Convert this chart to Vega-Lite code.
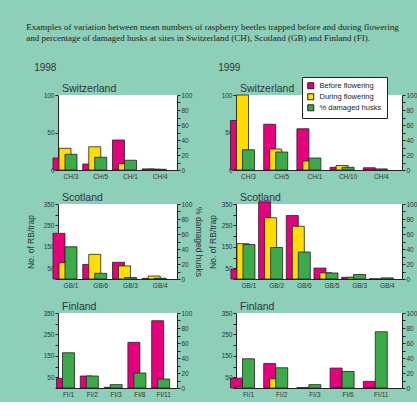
{
  "$schema": "https://vega.github.io/schema/vega-lite/v6.json",
  "background": "#8dcfb9",
  "padding": {"left": 26, "top": 22, "right": 0, "bottom": 4},
  "title": {
    "text": ["Examples of variation between mean numbers of raspberry beetles trapped before and during flowering", "and percentage of damaged husks at sites in Switzerland (CH), Scotland (GB) and Finland (FI)."],
    "font": "Liberation Serif", "fontSize": 9, "lineHeight": 11, "anchor": "start", "frame": "bounds", "dx": 0, "offset": 20, "color": "#222"
  },
  "data": {"values": [
    {"year": 1998, "country": "Switzerland", "site": "CH/3", "series": "Before flowering", "value": 16},
    {"year": 1998, "country": "Switzerland", "site": "CH/3", "series": "During flowering", "value": 29},
    {"year": 1998, "country": "Switzerland", "site": "CH/3", "series": "% damaged husks", "value": 21},
    {"year": 1998, "country": "Switzerland", "site": "CH/5", "series": "Before flowering", "value": 8},
    {"year": 1998, "country": "Switzerland", "site": "CH/5", "series": "During flowering", "value": 31},
    {"year": 1998, "country": "Switzerland", "site": "CH/5", "series": "% damaged husks", "value": 17},
    {"year": 1998, "country": "Switzerland", "site": "CH/1", "series": "Before flowering", "value": 40},
    {"year": 1998, "country": "Switzerland", "site": "CH/1", "series": "During flowering", "value": 8.5},
    {"year": 1998, "country": "Switzerland", "site": "CH/1", "series": "% damaged husks", "value": 13},
    {"year": 1998, "country": "Switzerland", "site": "CH/4", "series": "Before flowering", "value": 1.5},
    {"year": 1998, "country": "Switzerland", "site": "CH/4", "series": "During flowering", "value": 1},
    {"year": 1998, "country": "Switzerland", "site": "CH/4", "series": "% damaged husks", "value": 1},

    {"year": 1999, "country": "Switzerland", "site": "CH/3", "series": "Before flowering", "value": 66},
    {"year": 1999, "country": "Switzerland", "site": "CH/3", "series": "During flowering", "value": 100},
    {"year": 1999, "country": "Switzerland", "site": "CH/3", "series": "% damaged husks", "value": 27},
    {"year": 1999, "country": "Switzerland", "site": "CH/5", "series": "Before flowering", "value": 61},
    {"year": 1999, "country": "Switzerland", "site": "CH/5", "series": "During flowering", "value": 28},
    {"year": 1999, "country": "Switzerland", "site": "CH/5", "series": "% damaged husks", "value": 24},
    {"year": 1999, "country": "Switzerland", "site": "CH/1", "series": "Before flowering", "value": 55},
    {"year": 1999, "country": "Switzerland", "site": "CH/1", "series": "During flowering", "value": 12},
    {"year": 1999, "country": "Switzerland", "site": "CH/1", "series": "% damaged husks", "value": 16},
    {"year": 1999, "country": "Switzerland", "site": "CH/10", "series": "Before flowering", "value": 3.6},
    {"year": 1999, "country": "Switzerland", "site": "CH/10", "series": "During flowering", "value": 6},
    {"year": 1999, "country": "Switzerland", "site": "CH/10", "series": "% damaged husks", "value": 3.6},
    {"year": 1999, "country": "Switzerland", "site": "CH/4", "series": "Before flowering", "value": 3},
    {"year": 1999, "country": "Switzerland", "site": "CH/4", "series": "% damaged husks", "value": 1.5},

    {"year": 1998, "country": "Scotland", "site": "GB/1", "series": "Before flowering", "value": 213},
    {"year": 1998, "country": "Scotland", "site": "GB/1", "series": "During flowering", "value": 76},
    {"year": 1998, "country": "Scotland", "site": "GB/1", "series": "% damaged husks", "value": 43},
    {"year": 1998, "country": "Scotland", "site": "GB/6", "series": "Before flowering", "value": 68},
    {"year": 1998, "country": "Scotland", "site": "GB/6", "series": "During flowering", "value": 115},
    {"year": 1998, "country": "Scotland", "site": "GB/6", "series": "% damaged husks", "value": 7.6},
    {"year": 1998, "country": "Scotland", "site": "GB/3", "series": "Before flowering", "value": 78},
    {"year": 1998, "country": "Scotland", "site": "GB/3", "series": "During flowering", "value": 61},
    {"year": 1998, "country": "Scotland", "site": "GB/3", "series": "% damaged husks", "value": 2},
    {"year": 1998, "country": "Scotland", "site": "GB/4", "series": "Before flowering", "value": 3},
    {"year": 1998, "country": "Scotland", "site": "GB/4", "series": "During flowering", "value": 14},
    {"year": 1998, "country": "Scotland", "site": "GB/4", "series": "% damaged husks", "value": 1},

    {"year": 1999, "country": "Scotland", "site": "GB/1", "series": "Before flowering", "value": 45},
    {"year": 1999, "country": "Scotland", "site": "GB/1", "series": "During flowering", "value": 165},
    {"year": 1999, "country": "Scotland", "site": "GB/1", "series": "% damaged husks", "value": 46},
    {"year": 1999, "country": "Scotland", "site": "GB/2", "series": "Before flowering", "value": 360},
    {"year": 1999, "country": "Scotland", "site": "GB/2", "series": "During flowering", "value": 286},
    {"year": 1999, "country": "Scotland", "site": "GB/2", "series": "% damaged husks", "value": 42},
    {"year": 1999, "country": "Scotland", "site": "GB/6", "series": "Before flowering", "value": 296},
    {"year": 1999, "country": "Scotland", "site": "GB/6", "series": "During flowering", "value": 246},
    {"year": 1999, "country": "Scotland", "site": "GB/6", "series": "% damaged husks", "value": 36},
    {"year": 1999, "country": "Scotland", "site": "GB/5", "series": "Before flowering", "value": 51},
    {"year": 1999, "country": "Scotland", "site": "GB/5", "series": "During flowering", "value": 29},
    {"year": 1999, "country": "Scotland", "site": "GB/5", "series": "% damaged husks", "value": 8},
    {"year": 1999, "country": "Scotland", "site": "GB/3", "series": "Before flowering", "value": 8},
    {"year": 1999, "country": "Scotland", "site": "GB/3", "series": "During flowering", "value": 8},
    {"year": 1999, "country": "Scotland", "site": "GB/3", "series": "% damaged husks", "value": 6},
    {"year": 1999, "country": "Scotland", "site": "GB/4", "series": "Before flowering", "value": 1},
    {"year": 1999, "country": "Scotland", "site": "GB/4", "series": "% damaged husks", "value": 1.5},

    {"year": 1998, "country": "Finland", "site": "FI/1", "series": "Before flowering", "value": 45},
    {"year": 1998, "country": "Finland", "site": "FI/1", "series": "% damaged husks", "value": 47},
    {"year": 1998, "country": "Finland", "site": "FI/2", "series": "Before flowering", "value": 56},
    {"year": 1998, "country": "Finland", "site": "FI/2", "series": "% damaged husks", "value": 16},
    {"year": 1998, "country": "Finland", "site": "FI/3", "series": "Before flowering", "value": 3},
    {"year": 1998, "country": "Finland", "site": "FI/3", "series": "% damaged husks", "value": 4.5},
    {"year": 1998, "country": "Finland", "site": "FI/8", "series": "Before flowering", "value": 213},
    {"year": 1998, "country": "Finland", "site": "FI/8", "series": "% damaged husks", "value": 20},
    {"year": 1998, "country": "Finland", "site": "FI/11", "series": "Before flowering", "value": 314},
    {"year": 1998, "country": "Finland", "site": "FI/11", "series": "% damaged husks", "value": 12},

    {"year": 1999, "country": "Finland", "site": "FI/1", "series": "Before flowering", "value": 46},
    {"year": 1999, "country": "Finland", "site": "FI/1", "series": "During flowering", "value": 5},
    {"year": 1999, "country": "Finland", "site": "FI/1", "series": "% damaged husks", "value": 39},
    {"year": 1999, "country": "Finland", "site": "FI/2", "series": "Before flowering", "value": 114},
    {"year": 1999, "country": "Finland", "site": "FI/2", "series": "During flowering", "value": 43},
    {"year": 1999, "country": "Finland", "site": "FI/2", "series": "% damaged husks", "value": 27},
    {"year": 1999, "country": "Finland", "site": "FI/3", "series": "Before flowering", "value": 2},
    {"year": 1999, "country": "Finland", "site": "FI/3", "series": "% damaged husks", "value": 4.5},
    {"year": 1999, "country": "Finland", "site": "FI/6", "series": "Before flowering", "value": 93},
    {"year": 1999, "country": "Finland", "site": "FI/6", "series": "During flowering", "value": 3},
    {"year": 1999, "country": "Finland", "site": "FI/6", "series": "% damaged husks", "value": 22},
    {"year": 1999, "country": "Finland", "site": "FI/11", "series": "Before flowering", "value": 31},
    {"year": 1999, "country": "Finland", "site": "FI/11", "series": "During flowering", "value": 3},
    {"year": 1999, "country": "Finland", "site": "FI/11", "series": "% damaged husks", "value": 75}
  ]},
  "spacing": 5,
  "resolve": {"scale": {"xOffset": "independent"}},
  "hconcat": [
    {
      "title": {"text": "1998", "fontSize": 10, "frame": "bounds", "dx": 8, "offset": 11},
      "spacing": 12,
      "resolve": {"scale": {"xOffset": "independent"}},
      "vconcat": [
        {
          "title": "Switzerland",
          "width": 119, "height": 75,
          "transform": [{"filter": "datum.year == 1998 && datum.country == 'Switzerland'"}],
          "encoding": {
            "x": {"field": "site", "type": "nominal", "sort": null, "scale": {"paddingInner": 0.395, "paddingOuter": 0.1975, "align": 0.34}, "axis": {"title": null, "ticks": false, "labelPadding": 3, "labelAngle": 0}},
            "xOffset": {"field": "series", "type": "nominal", "scale": {"domain": ["Before flowering", "During flowering", "% damaged husks"], "paddingInner": 0, "paddingOuter": 0}},
            "color": {"field": "series", "type": "nominal", "scale": {"domain": ["Before flowering", "During flowering", "% damaged husks"], "range": ["#e5007e", "#ffdd00", "#3ca94a"]}, "legend": {"orient": "none", "legendX": 244, "legendY": -18, "title": null}}
          },
          "layer": [
            {"transform": [{"filter": "datum.series != '% damaged husks'"}], "mark": {"type": "bar", "width": {"band": 2}, "stroke": "#222", "strokeWidth": 0.8},
             "encoding": {"y": {"field": "value", "type": "quantitative", "scale": {"domain": [0, 100]}, "axis": {"orient": "left", "title": null, "values": [0, 50, 100]}}}},
            {"transform": [{"filter": "datum.series == '% damaged husks'"}], "mark": {"type": "bar", "width": {"band": 2}, "stroke": "#222", "strokeWidth": 0.8},
             "encoding": {"y": {"field": "value", "type": "quantitative", "scale": {"domain": [0, 100]}, "axis": {"orient": "right", "title": null, "values": [0, 10, 20, 30, 40, 50, 60, 70, 80, 90, 100], "labelExpr": "datum.value % 20 == 0 ? datum.label : ''"}}}}
          ],
          "resolve": {"scale": {"y": "independent"}}
        },
        {
          "title": "Scotland",
          "width": 119, "height": 75,
          "transform": [{"filter": "datum.year == 1998 && datum.country == 'Scotland'"}],
          "encoding": {
            "x": {"field": "site", "type": "nominal", "sort": null, "scale": {"paddingInner": 0.395, "paddingOuter": 0.1975, "align": 0.34}, "axis": {"title": null, "ticks": false, "labelPadding": 3, "labelAngle": 0}},
            "xOffset": {"field": "series", "type": "nominal", "scale": {"domain": ["Before flowering", "During flowering", "% damaged husks"], "paddingInner": 0, "paddingOuter": 0}},
            "color": {"field": "series", "type": "nominal", "scale": {"domain": ["Before flowering", "During flowering", "% damaged husks"], "range": ["#e5007e", "#ffdd00", "#3ca94a"]}, "legend": {"orient": "none", "legendX": 244, "legendY": -18, "title": null}}
          },
          "layer": [
            {"transform": [{"filter": "datum.series != '% damaged husks'"}], "mark": {"type": "bar", "width": {"band": 2}, "stroke": "#222", "strokeWidth": 0.8},
             "encoding": {"y": {"field": "value", "type": "quantitative", "scale": {"domain": [0, 350]}, "axis": {"orient": "left", "title": "No. of RB/trap", "titlePadding": 8, "values": [0, 50, 100, 150, 200, 250, 300, 350], "labelExpr": "datum.value % 100 == 50 ? datum.label : ''"}}}},
            {"transform": [{"filter": "datum.series == '% damaged husks'"}], "mark": {"type": "bar", "width": {"band": 2}, "stroke": "#222", "strokeWidth": 0.8},
             "encoding": {"y": {"field": "value", "type": "quantitative", "scale": {"domain": [0, 100]}, "axis": {"orient": "right", "title": "% damaged husks", "values": [0, 10, 20, 30, 40, 50, 60, 70, 80, 90, 100], "labelExpr": "datum.value % 20 == 0 ? datum.label : ''"}}}}
          ],
          "resolve": {"scale": {"y": "independent"}}
        },
        {
          "title": "Finland",
          "width": 119, "height": 75,
          "transform": [{"filter": "datum.year == 1998 && datum.country == 'Finland'"}],
          "encoding": {
            "x": {"field": "site", "type": "nominal", "sort": null, "scale": {"paddingInner": 0.496, "paddingOuter": 0.248, "align": 0.38}, "axis": {"title": null, "ticks": false, "labelPadding": 3, "labelAngle": 0}},
            "xOffset": {"field": "series", "type": "nominal", "scale": {"domain": ["Before flowering", "% damaged husks"], "paddingInner": 0, "paddingOuter": 0}},
            "color": {"field": "series", "type": "nominal", "scale": {"domain": ["Before flowering", "During flowering", "% damaged husks"], "range": ["#e5007e", "#ffdd00", "#3ca94a"]}, "legend": {"orient": "none", "legendX": 244, "legendY": -18, "title": null}}
          },
          "layer": [
            {"transform": [{"filter": "datum.series != '% damaged husks'"}], "mark": {"type": "bar", "width": {"band": 2}, "stroke": "#222", "strokeWidth": 0.8},
             "encoding": {"y": {"field": "value", "type": "quantitative", "scale": {"domain": [0, 350]}, "axis": {"orient": "left", "title": null, "values": [0, 50, 100, 150, 200, 250, 300, 350], "labelExpr": "datum.value % 100 == 50 ? datum.label : ''"}}}},
            {"transform": [{"filter": "datum.series == '% damaged husks'"}], "mark": {"type": "bar", "width": {"band": 2}, "stroke": "#222", "strokeWidth": 0.8},
             "encoding": {"y": {"field": "value", "type": "quantitative", "scale": {"domain": [0, 100]}, "axis": {"orient": "right", "title": null, "values": [0, 10, 20, 30, 40, 50, 60, 70, 80, 90, 100], "labelExpr": "datum.value % 20 == 0 ? datum.label : ''"}}}}
          ],
          "resolve": {"scale": {"y": "independent"}}
        }
      ]
    },
    {
      "title": {"text": "1999", "fontSize": 10, "frame": "bounds", "dx": 10, "offset": 11},
      "spacing": 12,
      "resolve": {"scale": {"xOffset": "independent"}},
      "vconcat": [
        {
          "title": "Switzerland",
          "width": 166, "height": 75,
          "transform": [{"filter": "datum.year == 1999 && datum.country == 'Switzerland'"}],
          "encoding": {
            "x": {"field": "site", "type": "nominal", "sort": null, "scale": {"paddingInner": 0.458, "paddingOuter": 0.229, "align": 0.23}, "axis": {"title": null, "ticks": false, "labelPadding": 3, "labelAngle": 0}},
            "xOffset": {"field": "series", "type": "nominal", "scale": {"domain": ["Before flowering", "During flowering", "% damaged husks"], "paddingInner": 0, "paddingOuter": 0}},
            "color": {"field": "series", "type": "nominal", "scale": {"domain": ["Before flowering", "During flowering", "% damaged husks"], "range": ["#e5007e", "#ffdd00", "#3ca94a"]}, "legend": {"orient": "none", "legendX": 244, "legendY": -18, "title": null}}
          },
          "layer": [
            {"transform": [{"filter": "datum.series != '% damaged husks'"}], "mark": {"type": "bar", "width": {"band": 2}, "stroke": "#222", "strokeWidth": 0.8},
             "encoding": {"y": {"field": "value", "type": "quantitative", "scale": {"domain": [0, 100]}, "axis": {"orient": "left", "title": null, "values": [0, 50, 100]}}}},
            {"transform": [{"filter": "datum.series == '% damaged husks'"}], "mark": {"type": "bar", "width": {"band": 2}, "stroke": "#222", "strokeWidth": 0.8},
             "encoding": {"y": {"field": "value", "type": "quantitative", "scale": {"domain": [0, 100]}, "axis": {"orient": "right", "title": null, "values": [0, 10, 20, 30, 40, 50, 60, 70, 80, 90, 100], "labelExpr": "datum.value % 20 == 0 ? datum.label : ''"}}}}
          ],
          "resolve": {"scale": {"y": "independent"}}
        },
        {
          "title": "Scotland",
          "width": 166, "height": 75,
          "transform": [{"filter": "datum.year == 1999 && datum.country == 'Scotland'"}],
          "encoding": {
            "x": {"field": "site", "type": "nominal", "sort": null, "scale": {"paddingInner": 0.349, "paddingOuter": 0.1745, "align": 0.41}, "axis": {"title": null, "ticks": false, "labelPadding": 3, "labelAngle": 0}},
            "xOffset": {"field": "series", "type": "nominal", "scale": {"domain": ["Before flowering", "During flowering", "% damaged husks"], "paddingInner": 0, "paddingOuter": 0}},
            "color": {"field": "series", "type": "nominal", "scale": {"domain": ["Before flowering", "During flowering", "% damaged husks"], "range": ["#e5007e", "#ffdd00", "#3ca94a"]}, "legend": {"orient": "none", "legendX": 244, "legendY": -18, "title": null}}
          },
          "layer": [
            {"transform": [{"filter": "datum.series != '% damaged husks'"}], "mark": {"type": "bar", "width": {"band": 2}, "stroke": "#222", "strokeWidth": 0.8},
             "encoding": {"y": {"field": "value", "type": "quantitative", "scale": {"domain": [0, 350]}, "axis": {"orient": "left", "title": "No. of RB/trap", "values": [0, 50, 100, 150, 200, 250, 300, 350], "labelExpr": "datum.value % 100 == 50 ? datum.label : ''"}}}},
            {"transform": [{"filter": "datum.series == '% damaged husks'"}], "mark": {"type": "bar", "width": {"band": 2}, "stroke": "#222", "strokeWidth": 0.8},
             "encoding": {"y": {"field": "value", "type": "quantitative", "scale": {"domain": [0, 100]}, "axis": {"orient": "right", "title": "% damaged husks", "values": [0, 10, 20, 30, 40, 50, 60, 70, 80, 90, 100], "labelExpr": "datum.value % 20 == 0 ? datum.label : ''"}}}}
          ],
          "resolve": {"scale": {"y": "independent"}}
        },
        {
          "title": "Finland",
          "width": 166, "height": 75,
          "transform": [{"filter": "datum.year == 1999 && datum.country == 'Finland'"}],
          "encoding": {
            "x": {"field": "site", "type": "nominal", "sort": null, "scale": {"paddingInner": 0.458, "paddingOuter": 0.229, "align": 0.23}, "axis": {"title": null, "ticks": false, "labelPadding": 3, "labelAngle": 0}},
            "xOffset": {"field": "series", "type": "nominal", "scale": {"domain": ["Before flowering", "During flowering", "% damaged husks"], "paddingInner": 0, "paddingOuter": 0}},
            "color": {"field": "series", "type": "nominal", "scale": {"domain": ["Before flowering", "During flowering", "% damaged husks"], "range": ["#e5007e", "#ffdd00", "#3ca94a"]}, "legend": {"orient": "none", "legendX": 244, "legendY": -18, "title": null}}
          },
          "layer": [
            {"transform": [{"filter": "datum.series != '% damaged husks'"}], "mark": {"type": "bar", "width": {"band": 2}, "stroke": "#222", "strokeWidth": 0.8},
             "encoding": {"y": {"field": "value", "type": "quantitative", "scale": {"domain": [0, 350]}, "axis": {"orient": "left", "title": null, "values": [0, 50, 100, 150, 200, 250, 300, 350], "labelExpr": "datum.value % 100 == 50 ? datum.label : ''"}}}},
            {"transform": [{"filter": "datum.series == '% damaged husks'"}], "mark": {"type": "bar", "width": {"band": 2}, "stroke": "#222", "strokeWidth": 0.8},
             "encoding": {"y": {"field": "value", "type": "quantitative", "scale": {"domain": [0, 100]}, "axis": {"orient": "right", "title": null, "values": [0, 10, 20, 30, 40, 50, 60, 70, 80, 90, 100], "labelExpr": "datum.value % 20 == 0 ? datum.label : ''"}}}}
          ],
          "resolve": {"scale": {"y": "independent"}}
        }
      ]
    }
  ],
  "config": {
    "font": "Liberation Sans",
    "view": {"fill": "white", "stroke": null},
    "axis": {"labelFontSize": 6.5, "labelColor": "#333", "domainColor": "#222", "tickColor": "#222", "grid": false, "titleFontSize": 8.5, "titleFontWeight": "normal", "titleColor": "#333", "tickSize": 3, "labelPadding": 1},
    "axisLeft": {"titlePadding": 4},
    "axisRight": {"titlePadding": 2},
    "title": {"fontSize": 10.5, "fontWeight": "normal", "color": "#333", "anchor": "start", "frame": "group", "dx": 4, "offset": -2},
    "legend": {"symbolType": "square", "symbolSize": 36, "symbolStrokeColor": "#222", "symbolStrokeWidth": 1, "labelFontSize": 7.5, "labelColor": "#222", "padding": 5, "rowPadding": 0, "fillColor": "white", "strokeColor": "#222", "labelOffset": 5}
  }
}
